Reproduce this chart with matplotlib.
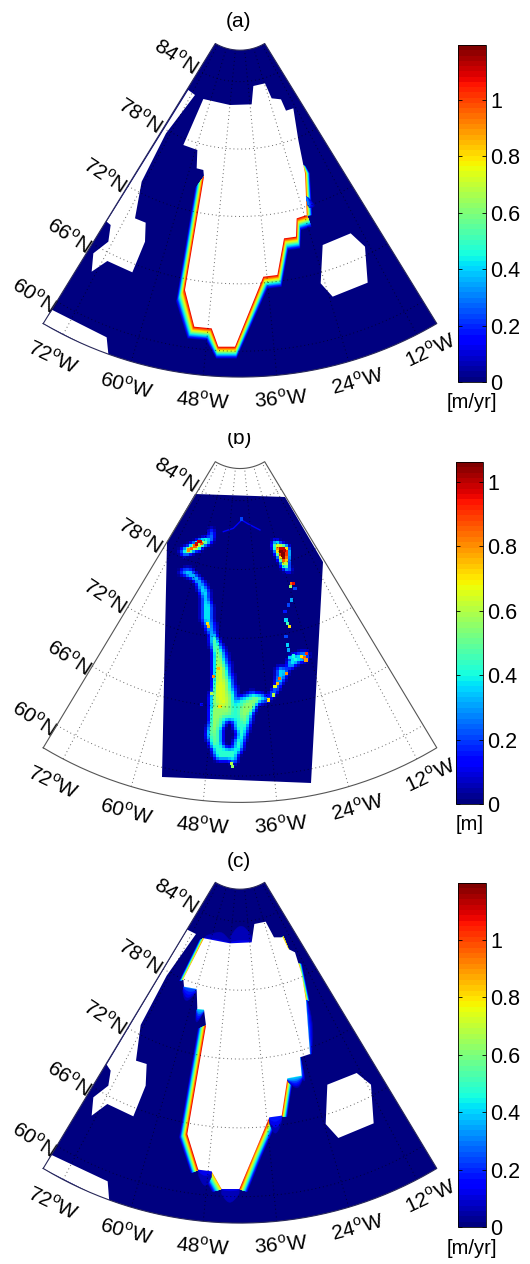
import numpy as np
import matplotlib
matplotlib.use("Agg")
import matplotlib.pyplot as plt
from matplotlib.cm import ScalarMappable
from matplotlib.colors import Normalize
from matplotlib.path import Path
from matplotlib.patches import Polygon, Rectangle

plt.rcParams['font.family'] = ['Liberation Sans', 'DejaVu Sans']
plt.rcParams['mathtext.fontset'] = 'custom'
plt.rcParams['mathtext.rm'] = 'Liberation Sans'

# graticule
lat_ticks = [60, 66, 72, 78, 84]
lon_ticks = [-72, -60, -48, -36, -24, -12]

# colorbars
cbar_ticks = [0, 0.2, 0.4, 0.6, 0.8, 1]
vmax_a = 1.195
vmax_b = 1.062
vmax_c = 1.199

# levels used for the coastal melt bands
band_values = [0.06, 0.12, 0.18, 0.24, 0.30, 0.36, 0.42, 0.48, 0.54, 0.60,
               0.66, 0.72, 0.78, 0.84, 0.90, 0.96, 1.02, 1.08]

# outlines below are map coordinates
# panel (a)
ice_a = [(610, 297), (690, 315), (755, 313), (760, 258), (795, 250), (815, 295), (843, 298), (858, 332),
         (880, 325), (895, 420), (915, 520), (920, 645), (890, 655), (888, 710), (852, 715), (832, 825),
         (790, 830), (705, 1040), (655, 1040), (635, 985), (583, 980), (555, 870), (612, 530), (610, 510),
         (590, 505), (592, 450), (550, 435)]
canada_a = [(320, 665), (565, 270), (585, 285), (498, 400), (425, 545), (405, 655), (437, 668), (435, 725),
            (397, 817), (322, 783), (275, 815), (280, 760), (325, 725), (332, 675)]
iceland_a = [(968, 735), (1052, 700), (1095, 740), (1103, 848), (998, 890), (962, 850)]
corner_a = [(128, 970), (157, 930), (320, 1012), (326, 1072)]
# each band: coast points (x, y, sideways spread), downward spread, peak value
bands_a = [
    ([(612, 530, -26), (555, 870, -26), (583, 980, -20), (635, 985, -16), (655, 1040, -6), (705, 1040, 4),
      (790, 830, 12), (832, 825, 12), (852, 715, 12), (888, 710, 12), (890, 655, 12), (920, 645, 14)], 35, 1.12),
    ([(920, 645, 16), (915, 520, 14), (908, 498, 8)], 0, 1.0),
    ([(918, 590, 20), (925, 620, 22)], 10, 0.35),
]

# panel (b)
data_b = [(585, 222), (855, 230), (968, 425), (932, 1088), (487, 1072), (500, 365)]
halo_b = [(535, 460), (565, 440), (575, 455), (600, 470), (625, 510), (640, 590), (645, 640), (680, 700),
          (700, 780), (715, 835), (750, 815), (790, 825), (800, 835), (830, 790), (830, 745), (860, 745),
          (870, 705), (925, 695), (920, 715), (890, 730), (860, 760), (845, 790), (830, 815), (800, 845),
          (770, 855), (755, 890), (745, 930), (735, 950), (725, 995), (712, 1008), (700, 1040), (690, 1020),
          (665, 1025), (645, 1020), (635, 985), (618, 960), (625, 900), (625, 860), (635, 800), (635, 700),
          (625, 640), (605, 600), (605, 540), (590, 490), (560, 465)]
mid_b = [(540, 450), (565, 450), (590, 470), (615, 510), (630, 570), (632, 630), (650, 660), (672, 720),
         (690, 790), (705, 850), (730, 830), (770, 820), (795, 830), (815, 825), (830, 785), (835, 745),
         (860, 750), (872, 710), (915, 700), (915, 720), (885, 730), (855, 755), (840, 790), (825, 815),
         (800, 840), (770, 850), (750, 895), (738, 935), (728, 950), (722, 990), (710, 1005), (698, 1035),
         (690, 1018), (660, 1022), (645, 1015), (632, 980), (622, 950), (628, 900), (628, 850), (637, 800),
         (640, 700), (628, 650), (612, 600), (612, 540), (595, 500), (570, 470), (540, 462)]
green_b = [(640, 650), (660, 700), (680, 780), (695, 855), (690, 880), (660, 890), (645, 940), (650, 985),
           (635, 960), (630, 900), (635, 840), (645, 760), (642, 700)]
lobe_b = [(715, 860), (765, 830), (775, 845), (745, 880), (725, 925), (722, 880)]
yellow_b = [(645, 700), (660, 740), (670, 790), (680, 850), (655, 860), (648, 830), (650, 770)]
lake_b = [(675, 905), (700, 905), (708, 950), (698, 985), (682, 990), (668, 970), (665, 930)]
nw_outer_b = [(535, 395), (590, 365), (625, 350), (628, 325), (638, 325), (640, 360), (600, 385), (550, 405)]
nw_inner_b = [(550, 398), (585, 372), (620, 358), (625, 365), (590, 385), (555, 403)]
ne_outer_b = [(815, 362), (830, 362), (862, 385), (860, 420), (868, 450), (850, 450), (835, 420), (820, 390)]
ne_inner_b = [(822, 370), (845, 385), (858, 410), (862, 440), (850, 435), (832, 405)]
ne_core_b = [(835, 385), (860, 385), (858, 420), (845, 412)]
layer_polys_b = [halo_b, mid_b, green_b, lobe_b, yellow_b, lake_b, nw_outer_b, nw_inner_b,
                 ne_outer_b, ne_inner_b, ne_core_b]
layer_vals_b = [0.22, 0.42, 0.56, 0.56, 0.66, 0.0, 0.42, 0.82, 0.5, 0.9, 1.2]
north_trail_b = [(670, 335), (700, 325), (725, 300), (745, 312), (780, 330)]
cell_x_b = [875, 872, 880, 885, 875, 865, 855, 858, 862, 868, 858, 862, 865, 920, 912, 918, 905, 880, 870,
            860, 838, 832, 825, 820, 805, 625, 622, 640, 655, 635, 660, 695, 697, 605, 575, 585, 595, 605,
            565, 590, 600, 725, 845, 853, 848]
cell_y_b = [490, 500, 490, 505, 540, 555, 575, 600, 610, 620, 650, 675, 690, 700, 712, 720, 710, 708, 712,
            760, 775, 790, 800, 825, 840, 620, 610, 770, 745, 820, 860, 1030, 1040, 853, 385, 378, 365, 370,
            390, 372, 365, 297, 395, 392, 405]
cell_val_b = [.85, .55, .95, .2, .3, .2, .15, .35, .45, .7, .2, .35, .3, .9, .85, .78, .7, .4, .35,
              .8, .85, .75, .65, .6, .7, .75, .7, .8, .75, .6, .7, .6, .55, .12, .85, .85, .95, .85,
              .8, .98, .98, .2, 1.05, 1.0, 1.05]

# panel (c)
ice_c = [(612, 283), (690, 298), (755, 295), (763, 240), (797, 233), (822, 280), (848, 280), (865, 315),
         (885, 325), (905, 390), (918, 470), (930, 630), (900, 640), (905, 695), (862, 703), (845, 815),
         (808, 820), (718, 1035), (665, 1035), (635, 982), (595, 977), (562, 870), (618, 545), (612, 497),
         (592, 495), (590, 435), (552, 428), (550, 405)]
canada_c = [(320, 662), (562, 257), (588, 270), (500, 395), (422, 543), (408, 650), (440, 660), (437, 725),
            (400, 817), (322, 780), (275, 815), (280, 760), (325, 725), (332, 680)]
iceland_c = [(982, 722), (1070, 687), (1113, 722), (1121, 838), (1015, 882), (977, 840)]
corner_c = [(128, 973), (155, 933), (323, 1012), (328, 1075)]
bands_c = [
    ([(618, 545, -24), (562, 870, -24), (595, 977, -22)], 10, 1.12),
    ([(635, 982, -28), (665, 1035, -28)], 8, 0.9),
    ([(808, 820, 24), (760, 930, 24), (718, 1035, 24)], 8, 1.08),
    ([(862, 703, 16), (845, 815, 16)], 4, 1.05),
    ([(612, 283, -14), (552, 405, -14)], 6, 0.95),
    ([(895, 360, 10), (918, 470, 10)], 0, 0.95),
    ([(918, 470, 14), (930, 630, 14)], 0, 0.3),
    ([(850, 278, -10), (865, 315, -10)], 8, 0.85),
    ([(552, 428, -12), (590, 435, -12)], 38, 0.3),
    ([(592, 495, -12), (612, 497, -12)], 38, 0.42),
    ([(900, 640, 12), (905, 695, 12)], 36, 0.32),
    ([(862, 703, 8), (905, 695, 8)], 32, 0.42),
    ([(808, 820, 0), (845, 815, 0)], 50, 0.22),
    ([(665, 1035, -2), (718, 1035, -2)], 40, 0.12),
    ([(595, 977, 0), (635, 982, 0)], 45, 0.14),
    ([(612, 283, 25), (690, 298, 0)], -25, 0.12),
    ([(690, 298, 0), (755, 295, 0)], -50, 0.12),
]


def project(lat, lon, apex_y, y_scale, extra=0.0):
    # conic map used for the frame, the grid lines and the tick labels
    radius = 240 + (84 - np.asarray(lat, dtype=float)) * 34.42 + extra
    theta = np.radians(0.92 * (np.asarray(lon, dtype=float) + 42))
    return 720 + radius * np.sin(theta), apex_y + radius * np.cos(theta) * y_scale


def fill_poly(ax, points, color, zorder):
    xs, ys = zip(*points)
    ax.fill(xs, ys, color=color, lw=0, zorder=zorder)


def draw_bands(ax, bands, norm, cmap):
    for points, dy, peak in bands:
        xs, ys, dxs = (np.array(v, dtype=float) for v in zip(*points))
        taper = np.ones(len(xs))
        if peak < 0.5 and len(xs) == 2:
            # weak smears die out towards their ends
            s = np.linspace(0, 1, 14)
            xs = xs[0] + (xs[1] - xs[0]) * s
            ys = ys[0] + (ys[1] - ys[0]) * s
            dxs = dxs[0] + (dxs[1] - dxs[0]) * s
            taper = 0.35 + 0.65 * np.sin(np.pi * s)
        for value in band_values:
            if value > peak:
                break
            frac = 1 - (value - band_values[0]) / (peak - band_values[0] + 0.01)
            px = np.concatenate([xs, (xs + dxs * frac * taper)[::-1]])
            py = np.concatenate([ys, (ys + dy * frac * taper)[::-1]])
            ax.fill(px, py, color=cmap(norm(value)), lw=0.3, zorder=3)


def draw_frame(ax, apex_y, y_scale, sector_color, frame_color):
    lat_top, lat_bot = 86.8, 57.7
    lon_w, lon_e = -75.73, -8.27
    lons = np.linspace(lon_w, lon_e, 80)
    x_bot, y_bot = project(lat_bot, lons, apex_y, y_scale)
    x_top, y_top = project(lat_top, lons, apex_y, y_scale)
    fx = np.concatenate([x_bot, x_top[::-1], x_bot[:1]])
    fy = np.concatenate([y_bot, y_top[::-1], y_bot[:1]])
    if sector_color is not None:
        ax.fill(fx, fy, color=sector_color, lw=0, zorder=1)
    ax.plot(fx, fy, color=frame_color, lw=0.8, zorder=6)
    # dotted grid
    lat_line = np.linspace(lat_bot, lat_top, 60)
    lon_line = np.linspace(lon_w, lon_e, 120)
    for lon in lon_ticks:
        x, y = project(lat_line, np.full(60, lon), apex_y, y_scale)
        ax.plot(x, y, color='black', alpha=0.6, lw=0.7, ls=(0, (1, 3)), zorder=5)
    for lat in lat_ticks:
        x, y = project(np.full(120, lat), lon_line, apex_y, y_scale)
        ax.plot(x, y, color='black', alpha=0.6, lw=0.7, ls=(0, (1, 3)), zorder=5)
    # tick labels
    edge = np.arctan2(590, 981)
    for lat in lat_ticks:
        x, y = project(lat, lon_w, apex_y, y_scale)
        ax.text(x - 80 * np.cos(edge) - 2, y - 80 * np.sin(edge) * y_scale + 22 - (lat - 60), f"{lat}$^{{\\mathrm{{o}}}}$N",
                rotation=-33, rotation_mode='anchor', ha='center', va='center', fontsize=15)
    for lon in lon_ticks:
        x, y = project(lat_bot, lon, apex_y, y_scale, extra=52)
        ax.text(x + 6 + (lon + 42) * 0.4, y + 25 - max(0, lon + 42) * 0.7, f"{-lon}$^{{\\mathrm{{o}}}}$W",
                rotation=0.92 * (lon + 42) * 0.92, rotation_mode='anchor', ha='center', va='center', fontsize=15)


def add_colorbar(fig, ax_px, vmax, unit, cmap):
    norm = Normalize(0, vmax)
    cax = fig.add_axes([ax_px[0] / 530, 1 - ax_px[3] / 1264, (ax_px[1] - ax_px[0]) / 530, (ax_px[3] - ax_px[2]) / 1264])
    cb = fig.colorbar(ScalarMappable(norm=norm, cmap=cmap), cax=cax, ticks=cbar_ticks)
    cb.ax.set_yticklabels([str(t) for t in cbar_ticks])
    cb.ax.tick_params(left=True, right=True, direction='in', length=3, width=0.6, labelsize=15.5, pad=3)
    cb.outline.set_linewidth(0.6)
    cb.ax.minorticks_off()
    fig.text((ax_px[0] + ax_px[1]) / 2 / 530, 1 - (ax_px[3] + 21) / 1264, unit, ha='center', va='center', fontsize=14.5)
    return norm


def blurred_field(polys, values, xs, ys):
    # nested outlines on the model grid, softened over the neighbouring cells
    gx, gy = np.meshgrid(xs, ys)
    pts = np.column_stack([gx.ravel(), gy.ravel()])
    field = np.zeros(gx.shape)
    for poly, value in zip(polys, values):
        inside = Path(poly).contains_points(pts).reshape(gx.shape)
        field[inside] = value
    out = field.copy()
    out[1:-1, 1:-1] = (4 * field[1:-1, 1:-1] + 2 * (field[:-2, 1:-1] + field[2:, 1:-1] + field[1:-1, :-2] + field[1:-1, 2:])
                       + field[:-2, :-2] + field[:-2, 2:] + field[2:, :-2] + field[2:, 2:]) / 16
    return out


jet = plt.get_cmap('jet', 64)
navy = jet(0)

fig = plt.figure(figsize=(5.30, 12.64), dpi=100)
panel_tops = [0, 420, 844]
axes = []
for top in panel_tops:
    ax = fig.add_axes([0, 1 - (top + 420) / 1264, 1, 420 / 1264])
    ax.set_xlim(0, 1590)
    ax.set_ylim(1260, 0)
    ax.axis('off')
    ax.patch.set_alpha(0)
    axes.append(ax)

# (a)
norm_a = add_colorbar(fig, (458, 486, 45, 382), vmax_a, '[m/yr]', jet)
draw_frame(axes[0], 10, 0.979, navy, '#2a2a5a')
draw_bands(axes[0], bands_a, norm_a, jet)
fill_poly(axes[0], ice_a, 'white', 4)
fill_poly(axes[0], canada_a, 'white', 4)
fill_poly(axes[0], iceland_a, 'white', 4)
fill_poly(axes[0], corner_a, 'white', 4)
axes[0].text(715, 65, '(a)', ha='center', va='center', fontsize=15)

# (b)
norm_b = add_colorbar(fig, (456, 483, 462, 804), vmax_b, '[m]', jet)
draw_frame(axes[1], 2, 1.0, None, '#555555')
ax = axes[1]
grid_x = np.arange(480, 980, 9.0)
grid_y = np.arange(215, 1095, 9.0)
field_b = blurred_field(layer_polys_b, layer_vals_b, grid_x, grid_y)
mesh = ax.pcolormesh(grid_x, grid_y, field_b, cmap=jet, norm=norm_b, shading='nearest', zorder=2)
mesh.set_clip_path(Polygon(data_b, closed=True, transform=ax.transData))
ax.plot(*zip(*north_trail_b), color=jet(norm_b(0.14)), lw=1.0, zorder=3)
ax.scatter(cell_x_b, cell_y_b, c=cell_val_b, cmap=jet, norm=norm_b, marker='s', s=6, linewidths=0, zorder=3.6)
ax.text(718, 55, '(b)', ha='center', va='center', fontsize=15, zorder=1)
ax.add_patch(Rectangle((600, 0), 240, 38, color='white', lw=0, zorder=2))

# (c)
norm_c = add_colorbar(fig, (458, 486, 883, 1227), vmax_c, '[m/yr]', jet)
draw_frame(axes[2], -8, 1.0, navy, '#2a2a5a')
draw_bands(axes[2], bands_c, norm_c, jet)
fill_poly(axes[2], ice_c, 'white', 4)
fill_poly(axes[2], canada_c, 'white', 4)
fill_poly(axes[2], iceland_c, 'white', 4)
fill_poly(axes[2], corner_c, 'white', 4)
axes[2].text(717, 52, '(c)', ha='center', va='center', fontsize=15)

fig.savefig('out.png', dpi=100)
